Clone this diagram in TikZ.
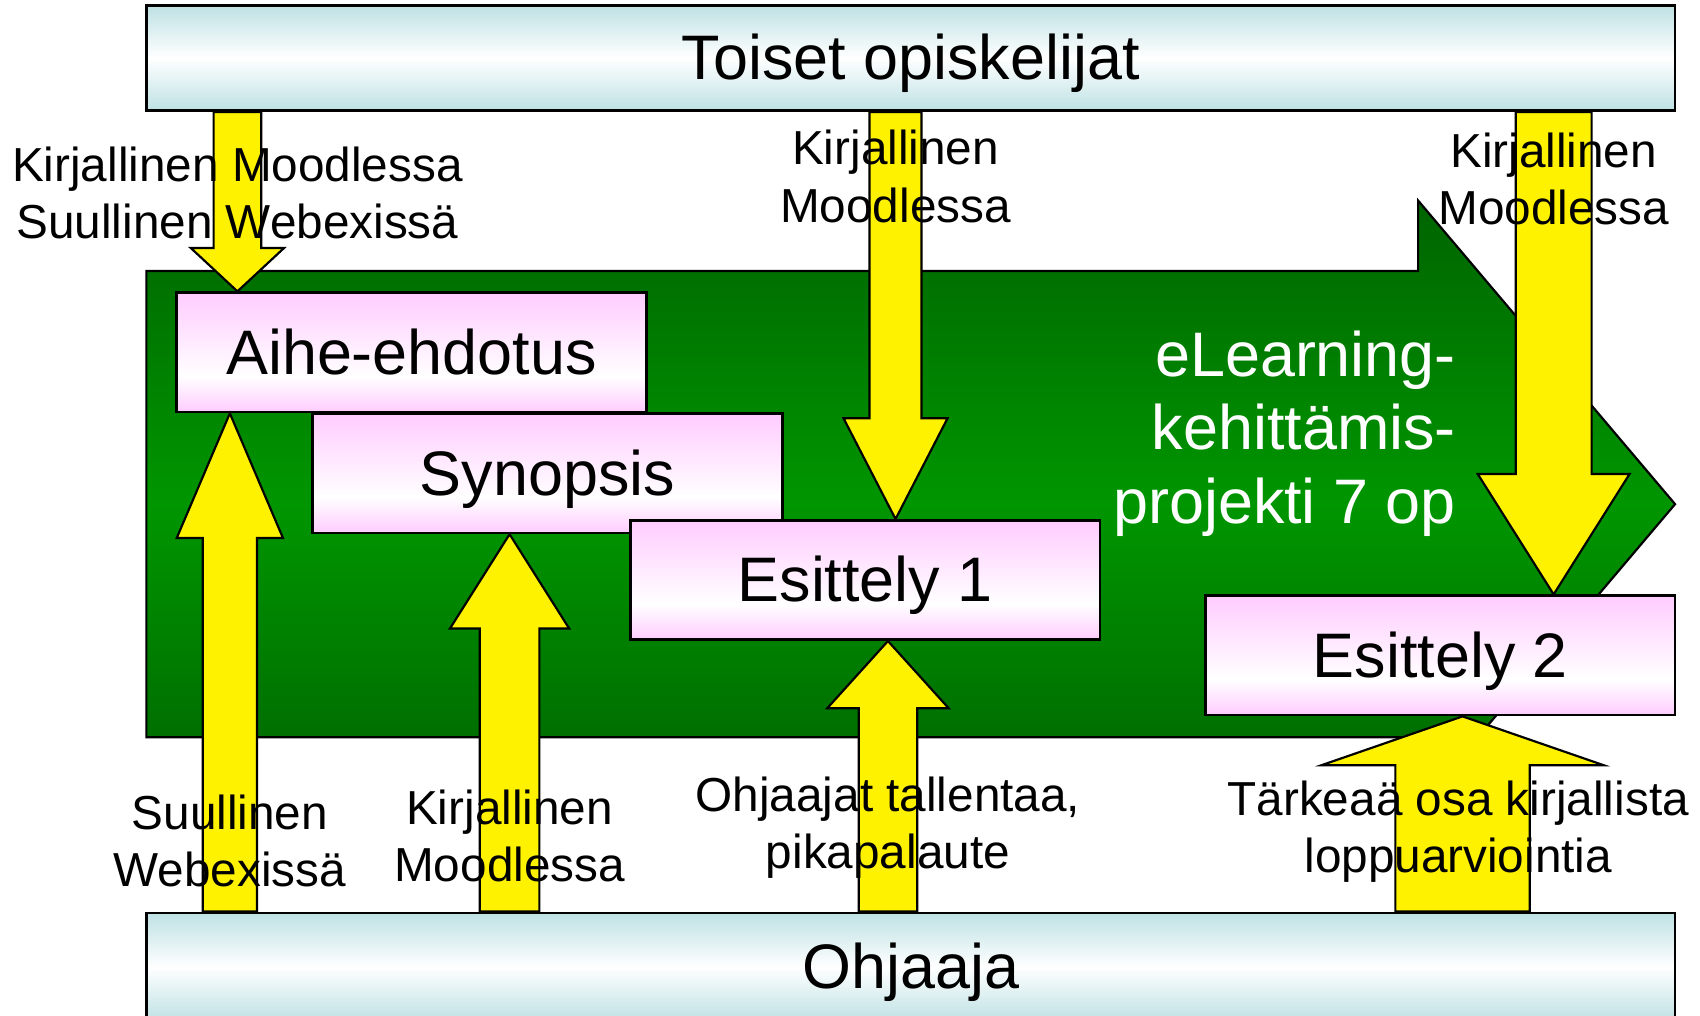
\documentclass[tikz,border=0pt]{standalone}
\usepackage{fontspec}
\setmainfont{Liberation Sans}
\usetikzlibrary{calc}

\definecolor{barteal}{RGB}{190,225,228}
\definecolor{boxpink}{RGB}{255,204,255}
\definecolor{darkgreen}{RGB}{0,100,0}
\definecolor{brightgreen}{RGB}{0,150,0}
\pgfdeclareverticalshading{pinkfade}{100bp}{color(0bp)=(boxpink); color(25bp)=(boxpink);
    color(40bp)=(white); color(75bp)=(boxpink); color(100bp)=(boxpink)}

\newcommand{\boxfont}{\fontsize{58}{68}\selectfont}
\newcommand{\notefont}{\fontsize{44}{53}\selectfont}

% block arrow: tail, tip, shaft half width, head half width, head length
\newcommand{\flowarrow}[5]{%
    \coordinate (tail) at (#1);
    \coordinate (tip) at (#2);
    \coordinate (neck) at ($(tip)!#5!(tail)$);
    \filldraw[flow] ($(tail)+(-#3,0)$) -- ($(neck)+(-#3,0)$) -- ($(neck)+(-#4,0)$)
        -- (tip) -- ($(neck)+(#4,0)$) -- ($(neck)+(#3,0)$) -- ($(tail)+(#3,0)$) -- cycle;
}

\begin{document}
\begin{tikzpicture}[x=1pt, y=-1pt,
    line join=miter,
    bar/.style={draw, line width=2.5pt, top color=barteal, bottom color=barteal, middle color=white,
        minimum width=1410pt, inner sep=0pt, text height=52.5pt, text depth=12.3pt, font=\boxfont},
    stage/.style={draw, line width=2.5pt, shade, shading=pinkfade, minimum width=433pt,
        minimum height=110pt, inner sep=0pt, text height=52.5pt, text depth=12.3pt, font=\boxfont},
    project/.style={draw=black, line width=2pt, top color=darkgreen, bottom color=darkgreen,
        middle color=brightgreen},
    projtext/.style={text=white, align=right, inner sep=0pt, anchor=east, font=\boxfont},
    flow/.style={fill=yellow, draw=black, line width=2pt},
    note/.style={align=center, inner sep=0pt, anchor=north, font=\notefont},
]
    \useasboundingbox (0,0) rectangle (1568,936.2);

    % Parties
    \node[bar, minimum height=97pt]  (peers) at (840,53.5) {Toiset opiskelijat};
    \node[bar, minimum height=100pt] (tutor) at (840,892)  {Ohjaaja};

    % Project arrow
    \draw[project] (135,250) -- (1308,250) -- (1308,185) -- (1545,465)
        -- (1308,745) -- (1308,680) -- (135,680) -- cycle;
    \node[projtext] (projname) at (1343,400) {eLearning-\\kehittämis-\\projekti 7 op};

    % Stages
    \node[stage] (topic)    at (379.5,325)   {Aihe-ehdotus};
    \node[stage] (synopsis) at (505,436.5)   {Synopsis};
    \node[stage] (demo1)    at (798,535)     {Esittely 1};
    \node[stage] (demo2)    at (1328.5,604.5) {Esittely 2};

    % Feedback from other students
    \flowarrow{219,0 |- peers.south}{219,0 |- topic.north}{22}{43}{40pt}
    \flowarrow{826,0 |- peers.south}{826,0 |- demo1.north}{24}{48}{93pt}
    \flowarrow{1433,0 |- peers.south}{1433,0 |- demo2.north}{35}{70}{111pt}

    % Feedback from tutor
    \flowarrow{212,0 |- tutor.north}{212,0 |- topic.south}{25}{49}{115pt}
    \flowarrow{470,0 |- tutor.north}{470,0 |- synopsis.south}{27.5}{55}{87pt}
    \flowarrow{819,0 |- tutor.north}{819,0 |- demo1.south}{27}{56}{62pt}
    \flowarrow{1349,0 |- tutor.north}{1349,0 |- demo2.south}{62}{130}{45pt}

    % Labels
    \node[note] (peernote1) at (219,135)  {Kirjallinen Moodlessa\\Suullinen Webexissä};
    \node[note] (peernote2) at (826,120)  {Kirjallinen\\Moodlessa};
    \node[note] (peernote3) at (1433,122) {Kirjallinen\\Moodlessa};
    \node[note] (tutornote1) at (212,733)  {Suullinen\\Webexissä};
    \node[note] (tutornote2) at (470,728)  {Kirjallinen\\Moodlessa};
    \node[note] (tutornote3) at (819,716)  {Ohjaajat tallentaa,\\pikapalaute};
    \node[note] (tutornote4) at (1345,720) {Tärkeaä osa kirjallista\\loppuarviointia};
\end{tikzpicture}
\end{document}
